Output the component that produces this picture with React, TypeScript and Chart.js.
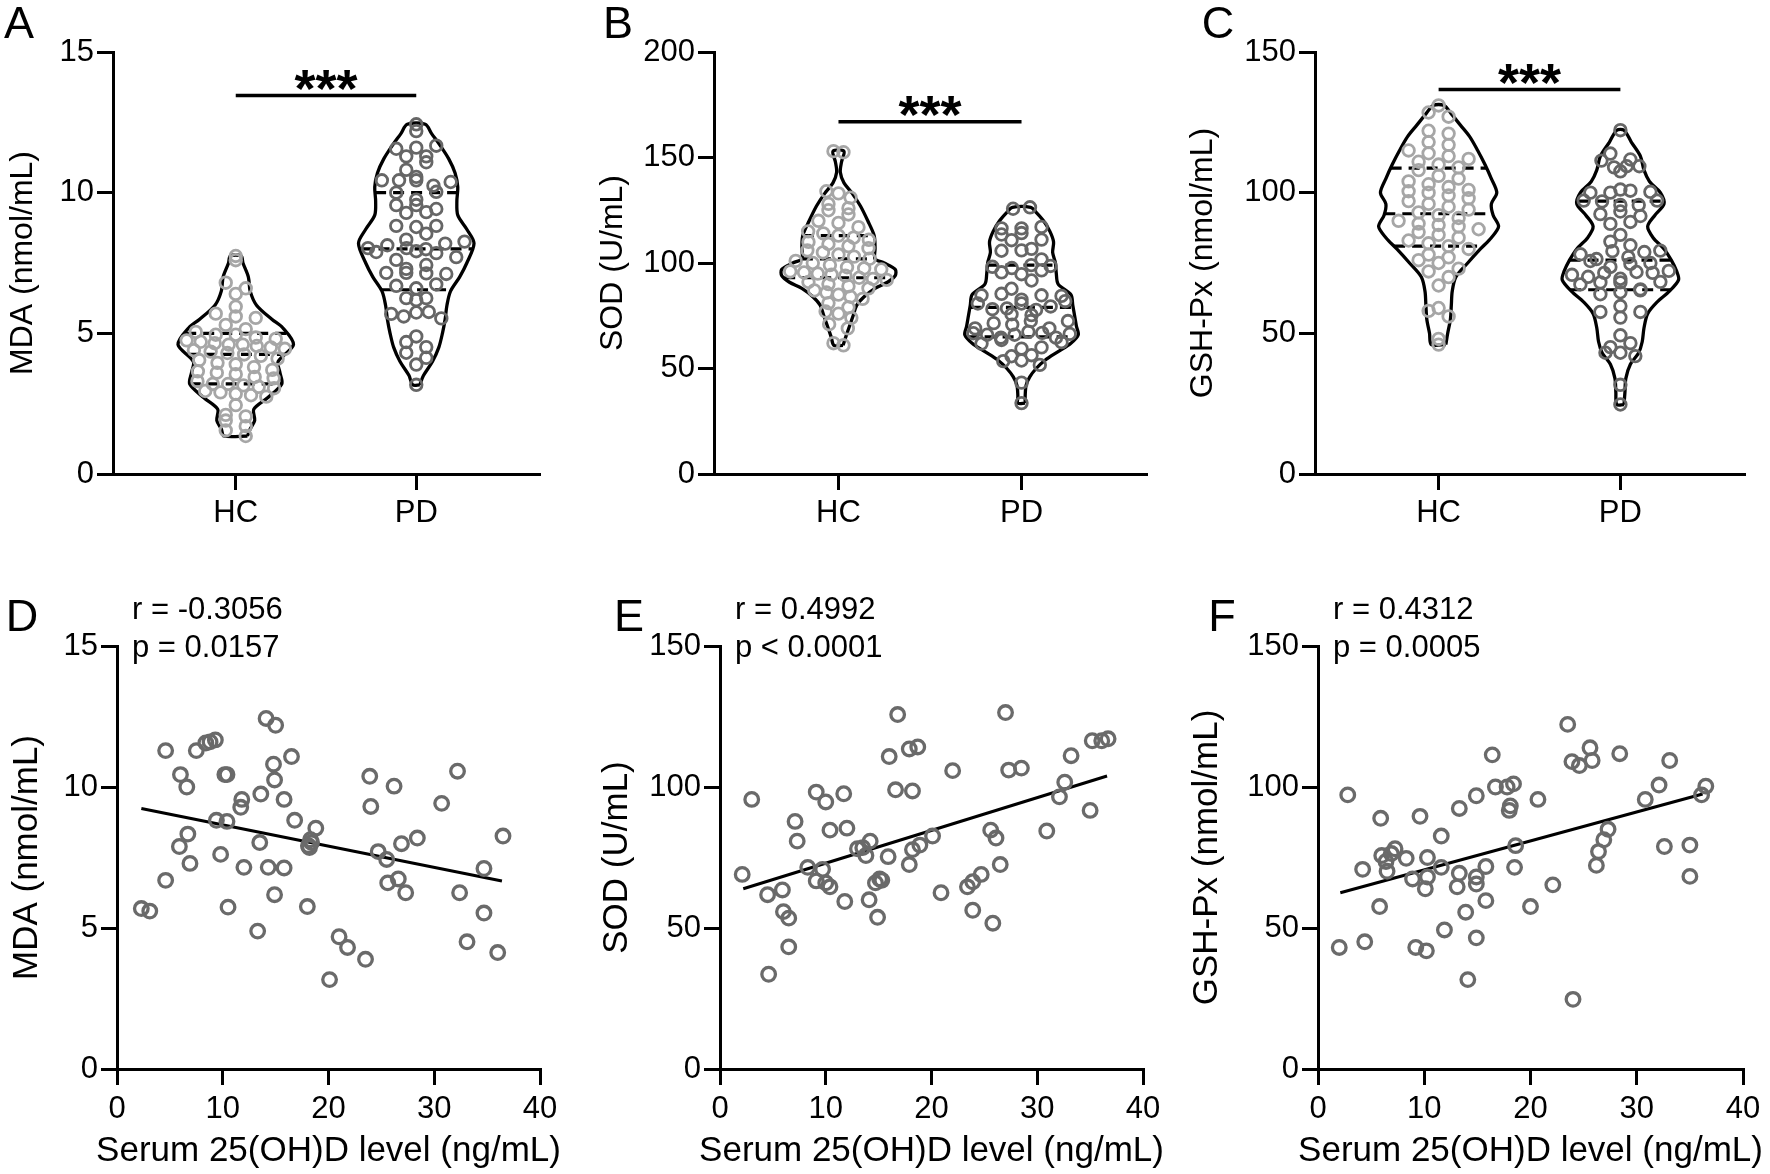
import React, { useEffect, useRef } from 'react';
import { Chart, registerables } from 'chart.js';

Chart.register(...registerables);

const FONT = "'Liberation Sans', Arial, Helvetica, sans-serif";
const HC_COLOR = '#a6a6a6';
const PD_COLOR = '#666666';
const SCATTER_COLOR = '#6a6a6a';

const groupLabels = ['HC', 'PD'];
const vitDTitle = 'Serum 25(OH)D level (ng/mL)';

// ---------------- MDA ----------------
const mdaHC = [7.75, 7.6, 6.8, 6.6, 6.4, 5.95, 5.7, 5.6, 5.55, 5.3, 5.15, 5.05, 4.95, 4.95, 4.85, 4.8, 4.75, 4.7, 4.65, 4.6, 4.6, 4.55, 4.5, 4.45, 4.4, 4.35, 4.3, 4.25, 4.2, 4.1, 4.05, 3.95, 3.9, 3.8, 3.7, 3.65, 3.6, 3.55, 3.45, 3.4, 3.3, 3.2, 3.2, 3.15, 3.1, 3.05, 2.95, 2.9, 2.85, 2.8, 2.75, 2.45, 2.1, 2.05, 1.9, 1.7, 1.55, 1.35];
const vitD_mda = [2.3, 3.1, 4.6, 4.6, 6.0, 6.6, 5.9, 6.7, 6.9, 7.5, 8.4, 8.8, 9.3, 9.4, 9.8, 10.2, 10.4, 10.4, 10.5, 11.8, 11.7, 12.0, 13.3, 13.5, 13.6, 14.1, 14.3, 15.0, 14.8, 14.9, 14.9, 15.8, 15.8, 16.5, 16.8, 18.0, 18.1, 18.3, 18.4, 18.8, 18.2, 20.1, 21.0, 21.8, 23.5, 23.9, 24.0, 24.7, 25.5, 25.6, 26.2, 26.6, 26.9, 27.3, 28.4, 30.7, 32.2, 32.4, 33.1, 34.7, 34.7, 36.0, 36.5];
const mdaPD = [5.69, 5.6, 11.29, 6.69, 10.44, 10.0, 7.89, 8.33, 7.29, 11.29, 11.56, 11.6, 11.67, 8.82, 7.61, 10.44, 10.44, 8.78, 5.74, 9.56, 9.28, 7.15, 4.89, 8.03, 9.75, 12.43, 7.15, 12.19, 10.81, 10.25, 6.18, 9.56, 7.13, 11.08, 8.82, 5.76, 7.92, 8.13, 8.03, 8.54, 7.85, 3.17, 4.69, 4.31, 3.89, 10.38, 9.31, 7.71, 7.43, 6.6, 10.03, 6.74, 7.99, 6.25, 8.19, 9.42, 10.56, 6.25, 4.51, 7.11, 5.53, 4.13, 8.26];
const mdaFitX = [2.3, 36.4];
const mdaFitY = [9.24, 6.67];
const mdaViolinHC_y = [1.35, 1.6, 1.9, 2.3, 2.7, 3.2, 3.6, 4.0, 4.6, 5.2, 5.5, 6.0, 6.5, 7.0, 7.5, 7.75];
const mdaViolinHC_w = [0.065, 0.08, 0.105, 0.1, 0.175, 0.255, 0.245, 0.235, 0.32, 0.26, 0.2, 0.115, 0.08, 0.07, 0.04, 0.03];
const mdaViolinPD_y = [3.17, 3.5, 4.0, 4.5, 5.0, 5.5, 6.0, 6.5, 7.0, 7.5, 8.2, 8.7, 9.2, 9.7, 10.2, 10.7, 11.2, 11.7, 12.1, 12.43];
const mdaViolinPD_w = [0.02, 0.04, 0.09, 0.125, 0.145, 0.16, 0.17, 0.19, 0.24, 0.28, 0.32, 0.28, 0.23, 0.225, 0.23, 0.215, 0.18, 0.13, 0.085, 0.05];
const mdaQuartHC = [3.2, 4.25, 5.0];
const mdaQuartPD = [6.55, 8.0, 10.0];
const mdaSig = 13.45;
const mdaStats = ['r = -0.3056', 'p = 0.0157'];

// ---------------- SOD ----------------
const sodHC = [153, 152.5, 134, 133, 131, 128, 126, 125, 123, 120, 119, 117, 115, 114, 113, 112, 111, 110, 109, 108, 107, 106, 105, 104, 103, 102, 101, 100, 99, 98, 97.5, 97, 96, 95.5, 95, 94.5, 94, 93, 92.5, 92, 91, 90, 89, 88, 87, 86, 85, 84, 83, 81, 79, 77, 76, 74, 71, 69, 62, 61];
const vitD_sod = [2.1, 3.0, 4.5, 4.6, 5.9, 6.0, 6.5, 6.5, 7.1, 7.3, 8.3, 9.1, 9.1, 9.7, 10.0, 10.0, 10.4, 10.4, 11.7, 12.0, 11.8, 13.0, 13.5, 13.8, 14.2, 14.1, 14.7, 15.1, 14.9, 15.3, 16.0, 15.9, 16.6, 16.8, 17.9, 18.7, 18.2, 17.9, 18.2, 18.9, 20.1, 20.9, 22.0, 23.4, 23.9, 24.7, 23.9, 25.6, 26.1, 26.5, 25.8, 27.0, 27.3, 28.5, 30.9, 32.1, 32.6, 33.2, 35.0, 35.2, 36.1, 36.7];
const sodPD = [69.0, 95.6, 61.8, 33.6, 63.5, 55.8, 53.5, 43.3, 87.8, 80.8, 71.5, 98.2, 66.7, 70.8, 94.7, 66.0, 84.7, 64.6, 97.6, 85.4, 59.4, 78.1, 78.5, 75.7, 80.8, 60.0, 66.0, 67.4, 53.8, 66.9, 110.8, 75.3, 99.0, 125.7, 113.5, 114.2, 98.6, 72.5, 77.8, 79.4, 82.6, 62.5, 105.8, 64.6, 66.4, 69.0, 56.3, 84.7, 81.9, 72.5, 51.7, 126.4, 106.0, 106.7, 84.4, 96.5, 101.7, 111.1, 91.7, 116.4, 116.4, 117.1];
const sodFitX = [2.2, 36.6];
const sodFitY = [63.9, 103.9];
const sodViolinHC_y = [61, 65, 70, 75, 80, 84, 88, 91, 94, 97, 100, 102, 107, 113, 120, 127, 133, 138, 143, 148, 153];
const sodViolinHC_w = [0.025, 0.04, 0.06, 0.08, 0.1, 0.14, 0.2, 0.27, 0.31, 0.31, 0.25, 0.2, 0.2, 0.195, 0.16, 0.12, 0.075, 0.03, 0.01, 0.017, 0.03];
const sodViolinPD_y = [33.6, 37, 42, 46, 50, 54, 58, 62, 66, 70, 75, 80, 85, 90, 95, 100, 105, 110, 115, 120, 124, 126.4];
const sodViolinPD_w = [0.02, 0.02, 0.025, 0.045, 0.08, 0.13, 0.2, 0.27, 0.31, 0.3, 0.29, 0.28, 0.27, 0.2, 0.19, 0.185, 0.17, 0.175, 0.155, 0.12, 0.08, 0.05];
const sodQuartHC = [93, 102, 113];
const sodQuartPD = [65, 79, 99];
const sodSig = 167;
const sodStats = ['r = 0.4992', 'p < 0.0001'];

// ---------------- GSH-Px ----------------
const gshHC = [131, 128.5, 127, 122, 121, 118, 117, 115, 114, 113, 112, 111, 110, 109, 108, 106, 105, 104, 103, 102, 101, 100.5, 100, 99, 98, 97, 96, 95, 94, 93, 92, 91, 90, 89, 88.5, 88, 87, 86, 85, 84, 83, 82, 81, 80, 78, 77, 76, 75, 73, 72, 70, 67, 59, 58, 56, 48, 46];
const vitD_gsh = [2.0, 2.8, 4.2, 4.4, 5.9, 6.0, 5.8, 6.4, 6.5, 7.25, 6.9, 8.3, 8.9, 9.6, 9.2, 10.2, 10.3, 10.3, 10.1, 11.6, 11.6, 11.9, 13.3, 13.3, 13.1, 13.9, 14.1, 14.9, 14.9, 14.9, 14.9, 15.8, 15.8, 16.4, 16.7, 17.8, 18.4, 18.1, 18.0, 18.6, 18.5, 20.0, 20.7, 22.1, 23.5, 23.9, 24.0, 24.6, 25.6, 25.8, 26.2, 26.4, 26.9, 27.3, 28.4, 30.8, 32.1, 32.6, 33.1, 35.0, 35.0, 36.1, 36.5];
const gshPD = [43.1, 97.2, 70.8, 45.1, 88.9, 75.7, 57.6, 73.6, 70.1, 78.1, 76.4, 74.7, 67.4, 89.6, 43.1, 41.9, 75.0, 68.1, 63.9, 82.6, 71.5, 49.3, 92.4, 69.4, 64.6, 55.6, 31.7, 96.9, 68.1, 65.6, 46.5, 71.8, 59.7, 111.4, 100.0, 100.0, 101.1, 93.3, 91.7, 79.2, 71.5, 57.6, 95.6, 65.3, 122.2, 109.0, 24.7, 107.6, 113.9, 109.4, 72.2, 77.1, 81.3, 85.0, 111.8, 95.6, 100.7, 78.9, 109.4, 79.4, 68.3, 97.2, 100.3];
const gshFitX = [2.1, 36.2];
const gshFitY = [62.5, 97.5];
const gshViolinHC_y = [46, 50, 55, 60, 65, 70, 75, 80, 84, 88, 92, 96, 100, 105, 110, 115, 120, 124, 128, 131];
const gshViolinHC_w = [0.04, 0.05, 0.065, 0.07, 0.075, 0.095, 0.16, 0.23, 0.29, 0.33, 0.3, 0.29, 0.32, 0.29, 0.255, 0.215, 0.17, 0.12, 0.07, 0.03];
const gshViolinPD_y = [24.7, 29, 34, 39, 43, 47, 52, 57, 61, 65, 69, 72, 76, 80, 84, 88, 92, 96, 100, 104, 108, 113, 118, 122.2];
const gshViolinPD_w = [0.02, 0.025, 0.03, 0.055, 0.1, 0.12, 0.13, 0.15, 0.2, 0.27, 0.32, 0.31, 0.28, 0.24, 0.18, 0.15, 0.19, 0.24, 0.22, 0.16, 0.13, 0.11, 0.06, 0.02];
const gshQuartHC = [81, 92.5, 108.7];
const gshQuartPD = [65.5, 76, 97];
const gshSig = 136.7;
const gshStats = ['r = 0.4312', 'p = 0.0005'];

// ---------------- layout (positions only) ----------------
const violinPanels = [
  { letter: 'A', title: 'MDA (nmol/mL)', yMax: 15, yStep: 5, hc: mdaHC, pd: mdaPD,
    prof: [[mdaViolinHC_y, mdaViolinHC_w], [mdaViolinPD_y, mdaViolinPD_w]], quart: [mdaQuartHC, mdaQuartPD], sig: mdaSig,
    box: { left: 0, top: 0, width: 590, height: 560 }, area: { l: 113, t: 52, r: 539, b: 474 }, letterPos: [19, 26] },
  { letter: 'B', title: 'SOD (U/mL)', yMax: 200, yStep: 50, hc: sodHC, pd: sodPD,
    prof: [[sodViolinHC_y, sodViolinHC_w], [sodViolinPD_y, sodViolinPD_w]], quart: [sodQuartHC, sodQuartPD], sig: sodSig,
    box: { left: 590, top: 0, width: 590, height: 560 }, area: { l: 124, t: 52, r: 556, b: 474 }, letterPos: [28, 26] },
  { letter: 'C', title: 'GSH-Px (nmol/mL)', yMax: 150, yStep: 50, hc: gshHC, pd: gshPD,
    prof: [[gshViolinHC_y, gshViolinHC_w], [gshViolinPD_y, gshViolinPD_w]], quart: [gshQuartHC, gshQuartPD], sig: gshSig,
    box: { left: 1180, top: 0, width: 590, height: 560 }, area: { l: 135, t: 52, r: 564, b: 474 }, letterPos: [38, 26] },
];

const scatterPanels = [
  { letter: 'D', title: 'MDA (nmol/mL)', yMax: 15, yStep: 5, x: vitD_mda, y: mdaPD, fx: mdaFitX, fy: mdaFitY, stats: mdaStats,
    box: { left: 0, top: 560, width: 590, height: 614 }, area: { l: 117, t: 86, r: 540, b: 509 }, letterPos: [22, 59] },
  { letter: 'E', title: 'SOD (U/mL)', yMax: 150, yStep: 50, x: vitD_sod, y: sodPD, fx: sodFitX, fy: sodFitY, stats: sodStats,
    box: { left: 590, top: 560, width: 590, height: 614 }, area: { l: 130, t: 86, r: 553, b: 509 }, letterPos: [39, 59] },
  { letter: 'F', title: 'GSH-Px (nmol/mL)', yMax: 150, yStep: 50, x: vitD_gsh, y: gshPD, fx: gshFitX, fy: gshFitY, stats: gshStats,
    box: { left: 1180, top: 560, width: 590, height: 614 }, area: { l: 138, t: 86, r: 563, b: 509 }, letterPos: [42, 59] },
];

// ---------------- helpers ----------------
function interpW(ys: number[], ws: number[], v: number) {
  if (v <= ys[0]) return ws[0];
  for (let i = 1; i < ys.length; i++) {
    if (v <= ys[i]) {
      const t = (v - ys[i - 1]) / (ys[i] - ys[i - 1]);
      return ws[i - 1] + t * (ws[i] - ws[i - 1]);
    }
  }
  return ws[ws.length - 1];
}

function outlinePath(center: number, ys: number[], ws: number[]) {
  const right = ys.map((y, i) => ({ x: center + ws[i], y }));
  const left = ys.map((y, i) => ({ x: center - ws[i], y })).reverse();
  return [...right, ...left, right[0]];
}

// spread points of each horizontal row across the violin width (GraphPad-like scatter)
function rowLayout(chart: any, values: number[], center: number, prY: number[], prW: number[], binPx: number) {
  const xs = chart.scales.x;
  const ys = chart.scales.y;
  const cx = xs.getPixelForValue(center);
  const unitPx = xs.getPixelForValue(center + 1) - cx;
  const bins = new Map<number, number[]>();
  values.forEach((v, i) => {
    const b = Math.floor(ys.getPixelForValue(v) / binPx);
    if (!bins.has(b)) bins.set(b, []);
    bins.get(b)!.push(i);
  });
  const out = values.map((v) => ({ x: center, y: v }));
  bins.forEach((idx) => {
    const n = idx.length;
    const mean = idx.reduce((s, i) => s + values[i], 0) / n;
    const wPx = interpW(prY, prW, mean) * unitPx;
    let gap = n > 1 ? (1.7 * wPx) / (n - 1) : 0;
    gap = Math.min(Math.max(gap, 10), 20);
    idx.forEach((i, j) => {
      const px = cx + (j - (n - 1) / 2) * gap;
      out[i] = { x: xs.getValueForPixel(px), y: values[i] };
    });
  });
  return out;
}

const axisGrid = { display: true, drawOnChartArea: false, drawTicks: true, tickLength: 16, color: '#000', lineWidth: 3, tickColor: '#000', tickWidth: 3 };
const axisBorder = { display: true, color: '#000', width: 3 };
const tickFont = { family: FONT, size: 31 };

function buildViolin(canvas: HTMLCanvasElement, p: any) {
  const W = p.box.width, H = p.box.height, a = p.area;
  const sets = [p.hc, p.pd];
  const colors = [HC_COLOR, PD_COLOR];
  const datasets: any[] = [];
  sets.forEach((vals: number[], g: number) => {
    datasets.push({
      type: 'scatter', data: vals.map((v) => ({ x: g, y: v })),
      borderColor: colors[g], backgroundColor: 'rgba(0,0,0,0)',
      pointRadius: 5.8, pointHoverRadius: 5.8, borderWidth: 2.8, order: 0, clip: false,
    });
  });
  p.prof.forEach((pr: number[][], g: number) => {
    datasets.push({
      type: 'line', data: outlinePath(g, pr[0], pr[1]), borderColor: '#000', borderWidth: 3.3,
      tension: 0.3, pointRadius: 0, fill: false, order: 2, clip: false,
    });
    p.quart[g].forEach((q: number) => {
      const w = interpW(pr[0], pr[1], q);
      datasets.push({
        type: 'line', data: [{ x: g - w, y: q }, { x: g + w, y: q }], borderColor: '#000', borderWidth: 3.2,
        borderDash: [11, 7], pointRadius: 0, fill: false, order: 1, clip: false,
      });
    });
  });
  datasets.push({
    type: 'line', data: [{ x: 0, y: p.sig }, { x: 1, y: p.sig }], borderColor: '#000', borderWidth: 3.5,
    pointRadius: 0, fill: false, order: 1, clip: false,
  });

  const annot = {
    id: 'annot',
    afterDraw(chart: any) {
      const ctx = chart.ctx;
      ctx.save();
      ctx.fillStyle = '#000';
      ctx.font = `45px ${FONT}`;
      ctx.textAlign = 'center';
      ctx.textBaseline = 'middle';
      ctx.fillText(p.letter, p.letterPos[0], p.letterPos[1]);
      const xs = chart.scales.x, ys = chart.scales.y;
      const cx = (xs.getPixelForValue(0) + xs.getPixelForValue(1)) / 2;
      const cy = ys.getPixelForValue(p.sig) - 15;
      ctx.font = `bold 54px ${FONT}`;
      ctx.textBaseline = 'alphabetic';
      const m = ctx.measureText('***');
      ctx.fillText('***', cx, cy + (m.actualBoundingBoxAscent - m.actualBoundingBoxDescent) / 2);
      ctx.restore();
    },
  };

  const chart = new Chart(canvas, {
    type: 'scatter',
    data: { datasets },
    options: {
      responsive: false, animation: false, devicePixelRatio: 1, events: [],
      layout: { autoPadding: false, padding: { left: 0, top: a.t, right: W - a.r, bottom: 0 } },
      plugins: { legend: { display: false }, tooltip: { enabled: false } },
      scales: {
        x: {
          type: 'linear', min: -0.68, max: 1.68,
          afterBuildTicks: (ax: any) => { ax.ticks = groupLabels.map((_, i) => ({ value: i })); },
          afterFit: (ax: any) => { ax.height = H - a.b; },
          ticks: { callback: (v: any) => groupLabels[v], font: tickFont, color: '#000', padding: 5, maxRotation: 0, autoSkip: false },
          grid: axisGrid, border: axisBorder,
        },
        y: {
          type: 'linear', min: 0, max: p.yMax,
          afterFit: (ax: any) => { ax.width = a.l; },
          ticks: { stepSize: p.yStep, font: tickFont, color: '#000', padding: 3 },
          title: { display: true, text: p.title, font: { family: FONT, size: 32 }, color: '#000', padding: { top: 4, bottom: 0 } },
          grid: axisGrid, border: axisBorder,
        },
      },
    } as any,
    plugins: [annot],
  });
  sets.forEach((vals: number[], g: number) => {
    chart.data.datasets[g].data = rowLayout(chart, vals, g, p.prof[g][0], p.prof[g][1], 10) as any;
  });
  chart.update('none');
  return chart;
}

function buildScatter(canvas: HTMLCanvasElement, p: any) {
  const W = p.box.width, H = p.box.height, a = p.area;
  const datasets: any[] = [
    {
      type: 'scatter', data: p.x.map((x: number, i: number) => ({ x, y: p.y[i] })),
      borderColor: SCATTER_COLOR, backgroundColor: 'rgba(0,0,0,0)',
      pointRadius: 6.8, pointHoverRadius: 6.8, borderWidth: 3.3, order: 0, clip: false,
    },
    {
      type: 'line', data: p.fx.map((x: number, i: number) => ({ x, y: p.fy[i] })), borderColor: '#000', borderWidth: 3,
      pointRadius: 0, fill: false, order: 1, clip: false,
    },
  ];
  const annot = {
    id: 'annot',
    afterDraw(chart: any) {
      const ctx = chart.ctx;
      const ca = chart.chartArea;
      ctx.save();
      ctx.fillStyle = '#000';
      ctx.font = `45px ${FONT}`;
      ctx.textAlign = 'center';
      ctx.textBaseline = 'middle';
      ctx.fillText(p.letter, p.letterPos[0], p.letterPos[1]);
      // x-axis title, centred on the axis, not squeezed
      ctx.font = `35px ${FONT}`;
      ctx.fillText(vitDTitle, (ca.left + ca.right) / 2, H - 23);
      ctx.font = `31px ${FONT}`;
      ctx.textAlign = 'left';
      const x0 = ca.left + 15;
      ctx.fillText(p.stats[0], x0, ca.top - 36);
      ctx.fillText(p.stats[1], x0, ca.top + 2);
      ctx.restore();
    },
  };
  return new Chart(canvas, {
    type: 'scatter',
    data: { datasets },
    options: {
      responsive: false, animation: false, devicePixelRatio: 1, events: [],
      layout: { autoPadding: false, padding: { left: 0, top: a.t, right: W - a.r, bottom: 0 } },
      plugins: { legend: { display: false }, tooltip: { enabled: false } },
      scales: {
        x: {
          type: 'linear', min: 0, max: 40,
          afterFit: (ax: any) => { ax.height = H - a.b; },
          ticks: { stepSize: 10, font: tickFont, color: '#000', padding: 6, maxRotation: 0 },
          grid: axisGrid, border: axisBorder,
        },
        y: {
          type: 'linear', min: 0, max: p.yMax,
          afterFit: (ax: any) => { ax.width = a.l; },
          ticks: { stepSize: p.yStep, font: tickFont, color: '#000', padding: 3 },
          title: { display: true, text: p.title, font: { family: FONT, size: 35 }, color: '#000', padding: { top: 6, bottom: 0 } },
          grid: axisGrid, border: axisBorder,
        },
      },
    } as any,
    plugins: [annot],
  });
}

function Panel({ spec, kind }: { spec: any; kind: 'violin' | 'scatter' }) {
  const ref = useRef<HTMLCanvasElement>(null);
  useEffect(() => {
    const c = ref.current!;
    const chart = kind === 'violin' ? buildViolin(c, spec) : buildScatter(c, spec);
    return () => chart.destroy();
  }, []);
  const b = spec.box;
  return (
    <canvas
      ref={ref}
      width={b.width}
      height={b.height}
      style={{ position: 'absolute', left: b.left, top: b.top, width: b.width, height: b.height }}
    />
  );
}

export default function App() {
  return (
    <div style={{ position: 'absolute', left: 0, top: 0, width: 1770, height: 1174, background: '#fff' }}>
      {violinPanels.map((p) => <Panel key={p.letter} spec={p} kind="violin" />)}
      {scatterPanels.map((p) => <Panel key={p.letter} spec={p} kind="scatter" />)}
    </div>
  );
}
